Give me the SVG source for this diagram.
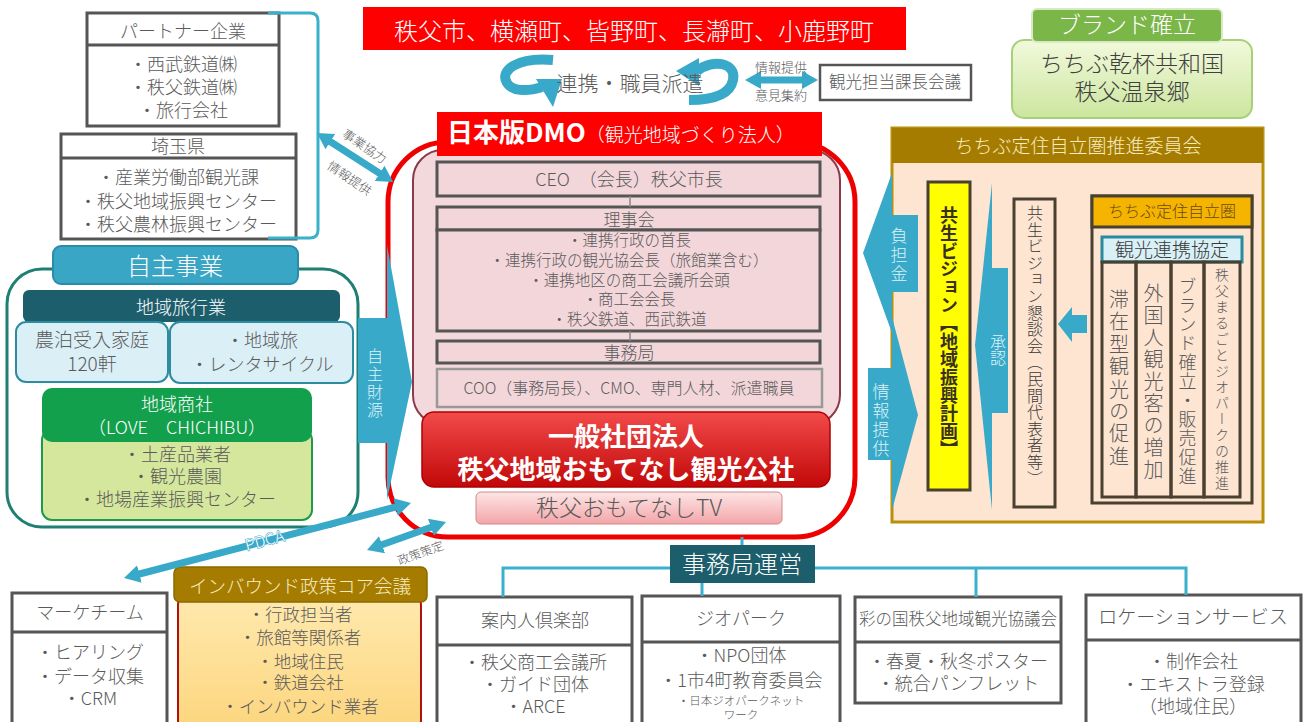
<svg xmlns="http://www.w3.org/2000/svg" width="1306" height="722" viewBox="0 0 1306 722">
<defs>
<style>
text{font-family:"Noto Sans CJK JP","Noto Sans",sans-serif;font-weight:300}
.c{text-anchor:middle}
.g{fill:#5a5a5a}
.d{fill:#3a3020}
.w{fill:#fff}
.lc{fill:#def2f8}
.v{writing-mode:vertical-rl}
.b{font-weight:bold}
.bx{fill:#fff;stroke:#555;stroke-width:3}
.hl{stroke:#555;stroke-width:3}
.pk{fill:#f3d6da;stroke:#555;stroke-width:3}
.cy{fill:#39a9c9}
.tl{fill:none;stroke:#3ab0cc;stroke-width:3}
.arr{stroke:#39a9c9;stroke-width:7;fill:none;marker-start:url(#ah);marker-end:url(#ah)}
.col{fill:none;stroke:#4a4030;stroke-width:3}
</style>
<marker id="ah" viewBox="0 0 16 18" refX="4" refY="9" markerWidth="16" markerHeight="18" markerUnits="userSpaceOnUse" orient="auto-start-reverse"><path d="M0,0 L16,9 L0,18 z" fill="#39a9c9"/></marker>
<linearGradient id="gRed" x1="0" y1="0" x2="0" y2="1"><stop offset="0" stop-color="#f24a4a"/><stop offset="1" stop-color="#c20808"/></linearGradient>
<linearGradient id="gTV" x1="0" y1="0" x2="0" y2="1"><stop offset="0" stop-color="#fde6e6"/><stop offset="1" stop-color="#f3a5a8"/></linearGradient>
<linearGradient id="gBrand" x1="0" y1="0" x2="0" y2="1"><stop offset="0" stop-color="#f2f9dc"/><stop offset="1" stop-color="#cce69e"/></linearGradient>
<linearGradient id="gInb" x1="0" y1="0" x2="0" y2="1"><stop offset="0" stop-color="#ffeab0"/><stop offset="1" stop-color="#fcd57c"/></linearGradient>
</defs>
<rect x="0" y="0" width="1306" height="722" fill="#fff"/>

<!-- partner -->
<g id="partner">
<rect class="bx" x="87" y="13" width="192" height="113"/>
<line class="hl" x1="87" y1="45" x2="279" y2="45"/>
<text class="c g" x="183" y="38" font-size="18">パートナー企業</text>
<text class="c g" x="183" y="71" font-size="18">・西武鉄道㈱</text>
<text class="c g" x="183" y="94" font-size="18">・秩父鉄道㈱</text>
<text class="c g" x="183" y="117" font-size="18">・旅行会社</text>
</g>
<g id="saitama">
<rect class="bx" x="61" y="134" width="235" height="105"/>
<line class="hl" x1="61" y1="158" x2="296" y2="158"/>
<text class="c g" x="178" y="153" font-size="18">埼玉県</text>
<text class="c g" x="178" y="184" font-size="18">・産業労働部観光課</text>
<text class="c g" x="178" y="208" font-size="18">・秩父地域振興センター</text>
<text class="c g" x="178" y="231" font-size="18">・秩父農林振興センター</text>
</g>

<!-- jishu jigyo -->
<g id="jishu">
<rect x="7" y="269" width="351" height="258" rx="35" fill="#fff" stroke="#1f7f73" stroke-width="3"/>
<rect x="53" y="246" width="245" height="38" rx="8" fill="#3aa6c6" stroke="#2a8cab" stroke-width="2"/>
<text class="c w" x="175" y="275" font-size="24">自主事業</text>
<rect x="23" y="290" width="317" height="32" rx="6" fill="#1d5e6c"/>
<text class="c w" x="181" y="314" font-size="18">地域旅行業</text>
<rect x="16" y="322" width="152" height="60" rx="10" fill="#dbeff6" stroke="#2e8ca0" stroke-width="2"/>
<rect x="170" y="322" width="183" height="61" rx="10" fill="#dbeff6" stroke="#2e8ca0" stroke-width="2"/>
<text class="c g" x="92" y="347" font-size="19">農泊受入家庭</text>
<text class="c g" x="92" y="371" font-size="19">120軒</text>
<text class="c g" x="262" y="347" font-size="18">・地域旅</text>
<text class="c g" x="262" y="371" font-size="18">・レンタサイクル</text>
<rect x="42" y="430" width="270" height="90" rx="10" fill="#d5e79d" stroke="#1e9b4a" stroke-width="2"/>
<rect x="42" y="388" width="270" height="54" rx="10" fill="#13a04c"/>
<text class="c w" x="177" y="411" font-size="18">地域商社</text>
<text class="c w" x="177" y="434" font-size="18">（LOVE　CHICHIBU）</text>
<text class="c g" x="177" y="461" font-size="18">・土産品業者</text>
<text class="c g" x="177" y="483" font-size="18">・観光農園</text>
<text class="c g" x="177" y="506" font-size="18">・地場産業振興センター</text>
</g>

<!-- top banner -->
<g id="banner">
<rect x="363" y="7" width="543" height="43" fill="#ff0000"/>
<text class="c w" x="634" y="40" font-size="24">秩父市、横瀬町、皆野町、長瀞町、小鹿野町</text>
</g>
<g id="renkei">
<path d="M553 60 C518 57 499 70 507 83 C512 91 526 92 542 87" fill="none" stroke="#39a9c9" stroke-width="10"/>
<polygon class="cy" points="536,79 562,79 553,107"/>
<path d="M697 71 C713 58 737 63 733 80 C730 95 712 100 689 100" fill="none" stroke="#39a9c9" stroke-width="10"/>
<polygon class="cy" points="699,58 699,86 676,71"/>
<text class="c g" x="630" y="91" font-size="21">連携・職員派遣</text>
</g>
<g id="kachou">
<rect x="820" y="65" width="151" height="35" fill="#fff" stroke="#555" stroke-width="2.5"/>
<text class="c g" x="895" y="88" font-size="16.5">観光担当課長会議</text>
</g>

<!-- DMO -->
<g id="dmo">
<rect x="388" y="142" width="467" height="395" rx="60" fill="#fff" stroke="#ee0000" stroke-width="5"/>
<rect x="413" y="150" width="427" height="275" rx="30" fill="#f4d9dc" stroke="#8a3a4a" stroke-width="2"/>
<rect x="437" y="112" width="385" height="44" fill="#ff0000"/>
<text x="447" y="142" class="w"><tspan font-size="26" font-weight="bold">日本版DMO</tspan><tspan font-size="19">（観光地域づくり法人）</tspan></text>
<rect class="pk" x="437" y="162" width="383" height="34"/>
<text class="c g" x="629" y="186" font-size="18">CEO　（会長）秩父市長</text>
<rect class="pk" x="437" y="207" width="383" height="23"/>
<text class="c g" x="629" y="226" font-size="17">理事会</text>
<rect class="pk" x="437" y="230" width="383" height="101"/>
<text class="c g" x="629" y="246" font-size="15.5">・連携行政の首長</text>
<text class="c g" x="629" y="266" font-size="15.5">・連携行政の観光協会長（旅館業含む）</text>
<text class="c g" x="629" y="286" font-size="15.5">・連携地区の商工会議所会頭</text>
<text class="c g" x="629" y="305" font-size="15.5">・商工会会長</text>
<text class="c g" x="629" y="325" font-size="15.5">・秩父鉄道、西武鉄道</text>
<rect class="pk" x="437" y="341" width="383" height="22"/>
<text class="c g" x="629" y="359" font-size="17">事務局</text>
<rect x="437" y="369" width="385" height="38" fill="#f3d6da" stroke="#999" stroke-width="2.5"/>
<text class="c g" x="629" y="394" font-size="16">COO（事務局長）、CMO、専門人材、派遣職員</text>
<rect x="422" y="412" width="408" height="75" rx="12" fill="url(#gRed)" stroke="#b00000" stroke-width="1.5"/>
<text class="c w b" x="626" y="446" font-size="26">一般社団法人</text>
<text class="c w b" x="626" y="479" font-size="26">秩父地域おもてなし観光公社</text>
<rect x="476" y="492" width="306" height="32" rx="5" fill="url(#gTV)" stroke="#d08a8a" stroke-width="1"/>
<text class="c g" x="629" y="516" font-size="23">秩父おもてなしTV</text>
</g>
<g id="jishu-zaigen">
<polygon class="cy" points="358,318 387,318 387,245 412,382 387,500 387,443 358,443"/>
<text class="v c lc" x="375" y="384" font-size="16" letter-spacing="2">自主財源</text>
</g>

<!-- brand -->
<g id="brand">
<rect x="1012" y="40" width="240" height="78" rx="12" fill="url(#gBrand)" stroke="#a8d07a" stroke-width="2"/>
<rect x="1032" y="9" width="190" height="33" rx="5" fill="#7ab648" stroke="#d6ecc0" stroke-width="2"/>
<text class="c w" x="1127" y="33" font-size="23">ブランド確立</text>
<text class="c" x="1132" y="72" font-size="23" fill="#404040">ちちぶ乾杯共和国</text>
<text class="c" x="1132" y="100" font-size="23" fill="#404040">秩父温泉郷</text>
</g>

<!-- teiju panel -->
<g id="teiju">
<rect x="892" y="128" width="371" height="394" fill="#fde5d2" stroke="#b8900a" stroke-width="3"/>
<rect x="892" y="128" width="371" height="35" fill="#a57c00"/>
<text class="c" x="1078" y="153" font-size="19" fill="#f8ecc0">ちちぶ定住自立圏推進委員会</text>
<rect x="928" y="182" width="42" height="308" fill="#ffff00" stroke="#4a4030" stroke-width="3"/>
<text class="v c d b" x="949" y="332" font-size="18">共生ビジョン【地域振興計画】</text>
<polygon class="cy" points="992,183 992,268 1008,268 1008,413 992,413 992,510 975,345"/>
<text class="v c lc" x="998" y="350" font-size="16">承認</text>
<rect x="1014" y="199" width="41" height="308" fill="#fde5d2" stroke="#4a4030" stroke-width="3"/>
<text class="v c" x="1035" y="346" font-size="16" fill="#3a3a3a" letter-spacing="0.6">共生ビジョン懇談会（民間代表者等）</text>
<polygon class="cy" points="1058,324 1072,307 1072,315 1087,315 1087,333 1072,333 1072,342"/>
<rect x="1092" y="196" width="160" height="307" fill="#fde5d2" stroke="#4a4030" stroke-width="3"/>
<rect x="1092" y="196" width="160" height="31" fill="#f5b400" stroke="#4a4030" stroke-width="3"/>
<text class="c" x="1172" y="217" font-size="16" fill="#6a4a10">ちちぶ定住自立圏</text>
<rect x="1102" y="237" width="140" height="25" fill="#d8f0f6" stroke="#2a8aa0" stroke-width="3"/>
<text class="c" x="1172" y="257" font-size="19" fill="#3a3a3a">観光連携協定</text>
<rect class="col" x="1102" y="262" width="34" height="235"/>
<rect class="col" x="1136" y="262" width="35" height="235"/>
<rect class="col" x="1171" y="262" width="33" height="235"/>
<rect class="col" x="1204" y="262" width="36" height="235"/>
<text class="v c g" x="1119" y="379" font-size="20" letter-spacing="2.4">滞在型観光の促進</text>
<text class="v c g" x="1153.5" y="382" font-size="20" letter-spacing="2">外国人観光客の増加</text>
<text class="v c g" x="1187.5" y="382" font-size="18" letter-spacing="1">ブランド確立・販売促進</text>
<text class="v c g" x="1222" y="380" font-size="14" letter-spacing="2">秩父まるごとジオパークの推進</text>
</g>
<g id="futan">
<polygon class="cy" points="892,173 892,215 918,215 918,292 892,292 892,333 863,253"/>
<text class="v c lc" x="899" y="256" font-size="17" letter-spacing="2">負担金</text>
</g>
<g id="jouhou">
<polygon class="cy" points="868,368 892,368 892,317 918,415 892,510 892,460 868,460"/>
<text class="v c lc" x="881" y="421" font-size="17" letter-spacing="2">情報提供</text>
</g>

<!-- bottom -->
<g id="jimukyoku">
<rect x="670" y="545" width="145" height="38" fill="#1d5e6c"/>
<text class="c w" x="742" y="573" font-size="24">事務局運営</text>
</g>
<g id="marke">
<rect class="bx" x="12" y="593" width="155" height="140"/>
<line class="hl" x1="12" y1="632" x2="167" y2="632"/>
<text class="c g" x="90" y="619" font-size="18">マーケチーム</text>
<text class="c g" x="90" y="659" font-size="18">・ヒアリング</text>
<text class="c g" x="90" y="683" font-size="18">・データ収集</text>
<text class="c g" x="90" y="705" font-size="18">・CRM</text>
</g>
<g id="inbound">
<rect x="178" y="590" width="243" height="145" rx="15" fill="url(#gInb)" stroke="#b01010" stroke-width="2"/>
<rect x="174" y="567" width="253" height="35" rx="6" fill="#a57c00" stroke="#8a6a00" stroke-width="1.5"/>
<text class="c" x="300" y="593" font-size="18.5" fill="#f8ecc0">インバウンド政策コア会議</text>
<text class="c g" x="300" y="621" font-size="17.5">・行政担当者</text>
<text class="c g" x="300" y="644" font-size="17.5">・旅館等関係者</text>
<text class="c g" x="300" y="668" font-size="17.5">・地域住民</text>
<text class="c g" x="300" y="689" font-size="17.5">・鉄道会社</text>
<text class="c g" x="300" y="713" font-size="17.5">・インバウンド業者</text>
</g>
<g id="annai">
<rect class="bx" x="437" y="597" width="195" height="140"/>
<line class="hl" x1="437" y1="645" x2="632" y2="645"/>
<text class="c g" x="535" y="627" font-size="18">案内人倶楽部</text>
<text class="c g" x="535" y="669" font-size="18">・秩父商工会議所</text>
<text class="c g" x="535" y="691" font-size="18">・ガイド団体</text>
<text class="c g" x="535" y="713" font-size="18">・ARCE</text>
</g>
<g id="geopark">
<rect class="bx" x="642" y="596" width="198" height="140"/>
<line class="hl" x1="642" y1="642" x2="840" y2="642"/>
<text class="c g" x="741" y="625" font-size="18">ジオパーク</text>
<text class="c g" x="741" y="662" font-size="18">・NPO団体</text>
<text class="c g" x="741" y="687" font-size="18">・1市4町教育委員会</text>
<text class="c g" x="741" y="705" font-size="11.5">・日本ジオパークネット</text>
<text class="c g" x="741" y="719" font-size="11.5">ワーク</text>
</g>
<g id="sainokuni">
<rect class="bx" x="855" y="597" width="206" height="106"/>
<line class="hl" x1="855" y1="642" x2="1061" y2="642"/>
<text class="c g" x="958" y="625" font-size="16.5">彩の国秩父地域観光協議会</text>
<text class="c g" x="958" y="668" font-size="18">・春夏・秋冬ポスター</text>
<text class="c g" x="958" y="690" font-size="18">・統合パンフレット</text>
</g>
<g id="location">
<rect class="bx" x="1086" y="595" width="215" height="140"/>
<line class="hl" x1="1086" y1="640" x2="1301" y2="640"/>
<text class="c g" x="1193" y="624" font-size="19">ロケーションサービス</text>
<text class="c g" x="1193" y="668" font-size="18">・制作会社</text>
<text class="c g" x="1193" y="691" font-size="18">・エキストラ登録</text>
<text class="c g" x="1193" y="713" font-size="18">（地域住民）</text>
</g>

<!-- connectors -->
<g id="connectors">
<path class="tl" d="M268 13 L310 13 Q318 13 318 21 L318 230 Q318 238 310 238 L268 238"/>
<line class="arr" x1="327" y1="139.5" x2="383" y2="175.5"/>
<text class="g" font-size="12.5" transform="translate(362 150) rotate(34)" text-anchor="middle">事業協力</text>
<text class="g" font-size="12.5" transform="translate(347 182) rotate(34)" text-anchor="middle">情報提供</text>
<line class="arr" x1="757" y1="80" x2="806" y2="80"/>
<text class="c g" x="781" y="72" font-size="13">情報提供</text>
<text class="c g" x="781" y="100" font-size="13">意見集約</text>
<line class="arr" x1="135.6" y1="575" x2="399.4" y2="506"/>
<text class="w" font-size="16" transform="translate(266 546) rotate(-15)" text-anchor="middle" stroke="#39a9c9" stroke-width="1" paint-order="stroke">PDCA</text>
<line class="arr" x1="378.3" y1="546" x2="434.7" y2="526"/>
<text class="g" font-size="12" transform="translate(422 557) rotate(-20)" text-anchor="middle">政策策定</text>
<line x1="630" y1="196" x2="630" y2="207" stroke="#888" stroke-width="1.5"/>
<line x1="630" y1="331" x2="630" y2="341" stroke="#888" stroke-width="1.5"/>
<line x1="742" y1="537" x2="742" y2="545" stroke="#3ab0cc" stroke-width="3"/>
<path class="tl" d="M503 597 L503 568 L670 568"/>
<path class="tl" d="M815 568 L1186 568 L1186 595"/>
<line x1="702" y1="583" x2="702" y2="596" stroke="#3ab0cc" stroke-width="3"/>
<line x1="976" y1="568" x2="976" y2="597" stroke="#3ab0cc" stroke-width="3"/>
</g>
</svg>
